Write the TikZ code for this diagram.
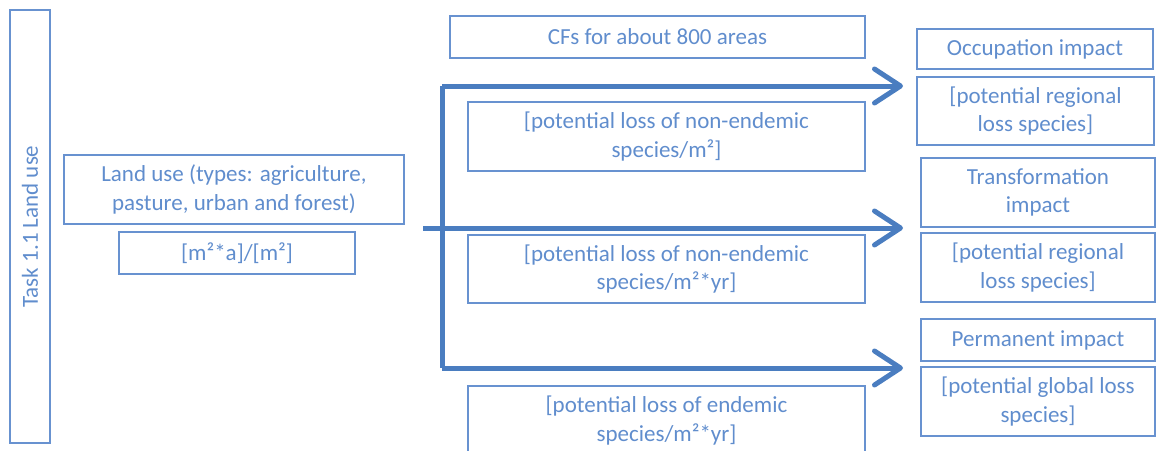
\documentclass[tikz,border=0pt]{standalone}
\usepackage{fontspec}
\setmainfont{Carlito}
\usetikzlibrary{arrows.meta}
\definecolor{boxline}{RGB}{104,146,208}
\definecolor{boxtext}{RGB}{96,141,205}
\definecolor{flowblue}{RGB}{74,125,192}
\tikzset{
  box/.style={draw=boxline, line width=2pt, inner sep=0pt, align=center,
    text=boxtext, font=\fontsize{23}{28.5}\selectfont},
  flow/.style={draw=flowblue, line width=5pt, line join=round,
    -{Straight Barb[length=26pt,width=34pt,line cap=round,line join=round]}},
  bar/.style={draw=flowblue, line width=5pt, line join=round}
}
\begin{document}
\begin{tikzpicture}[x=1pt,y=-1pt]
\useasboundingbox (0,0) rectangle (1156,450);

% task column
\node[box, minimum width=40pt, minimum height=433pt] (task) at (30,226.5) {};
\node[text=boxtext, font=\fontsize{23}{28.5}\selectfont, rotate=90] (tasklabel) at (task.center) {Task 1.1 Land use};

% inputs
\node[box, minimum width=340pt, minimum height=69pt] (landuse) at (234,189.5)
  {Land use (types: agriculture,\\pasture, urban and forest)};
\node[box, minimum width=236pt, minimum height=42pt] (units) at (237,253) {[m²*a]/[m²]};

% characterisation factors
\node[box, minimum width=415pt, minimum height=42pt] (cfs) at (657.5,37) {CFs for about 800 areas};
\node[box, minimum width=397pt, minimum height=69pt] (cf1) at (666.5,136.5)
  {[potential loss of non-endemic\\species/m²]};
\node[box, minimum width=397pt, minimum height=68pt] (cf2) at (666.5,269)
  {[potential loss of non-endemic\\species/m²*yr]};
\node[box, minimum width=397pt, minimum height=69pt] (cf3) at (666.5,420.5)
  {[potential loss of endemic\\species/m²*yr]};

% impacts
\node[box, minimum width=236pt, minimum height=40pt] (occ) at (1035,49) {Occupation impact};
\node[box, minimum width=237pt, minimum height=68pt] (occu) at (1035.5,111)
  {[potential regional\\loss species]};
\node[box, minimum width=234pt, minimum height=69pt] (trans) at (1038,192.5)
  {Transformation\\impact};
\node[box, minimum width=234pt, minimum height=69pt] (transu) at (1038,267.5)
  {[potential regional\\loss species]};
\node[box, minimum width=234pt, minimum height=42pt] (perm) at (1038,340) {Permanent impact};
\node[box, minimum width=234pt, minimum height=69pt] (permu) at (1038,401.5)
  {[potential global loss\\species]};

% connector points
\coordinate (start) at (423,228);
\coordinate (jtop) at (442,86);
\coordinate (jbot) at (442,368);
\coordinate (tip1) at (903,86);
\coordinate (tip2) at (903,228);
\coordinate (tip3) at (903,368);

\draw[flow] (start) -- (tip2);
\draw[bar] (jtop) -- (jbot);
\draw[flow] (jtop) -- (tip1);
\draw[flow] (jbot) -- (tip3);
\end{tikzpicture}
\end{document}
